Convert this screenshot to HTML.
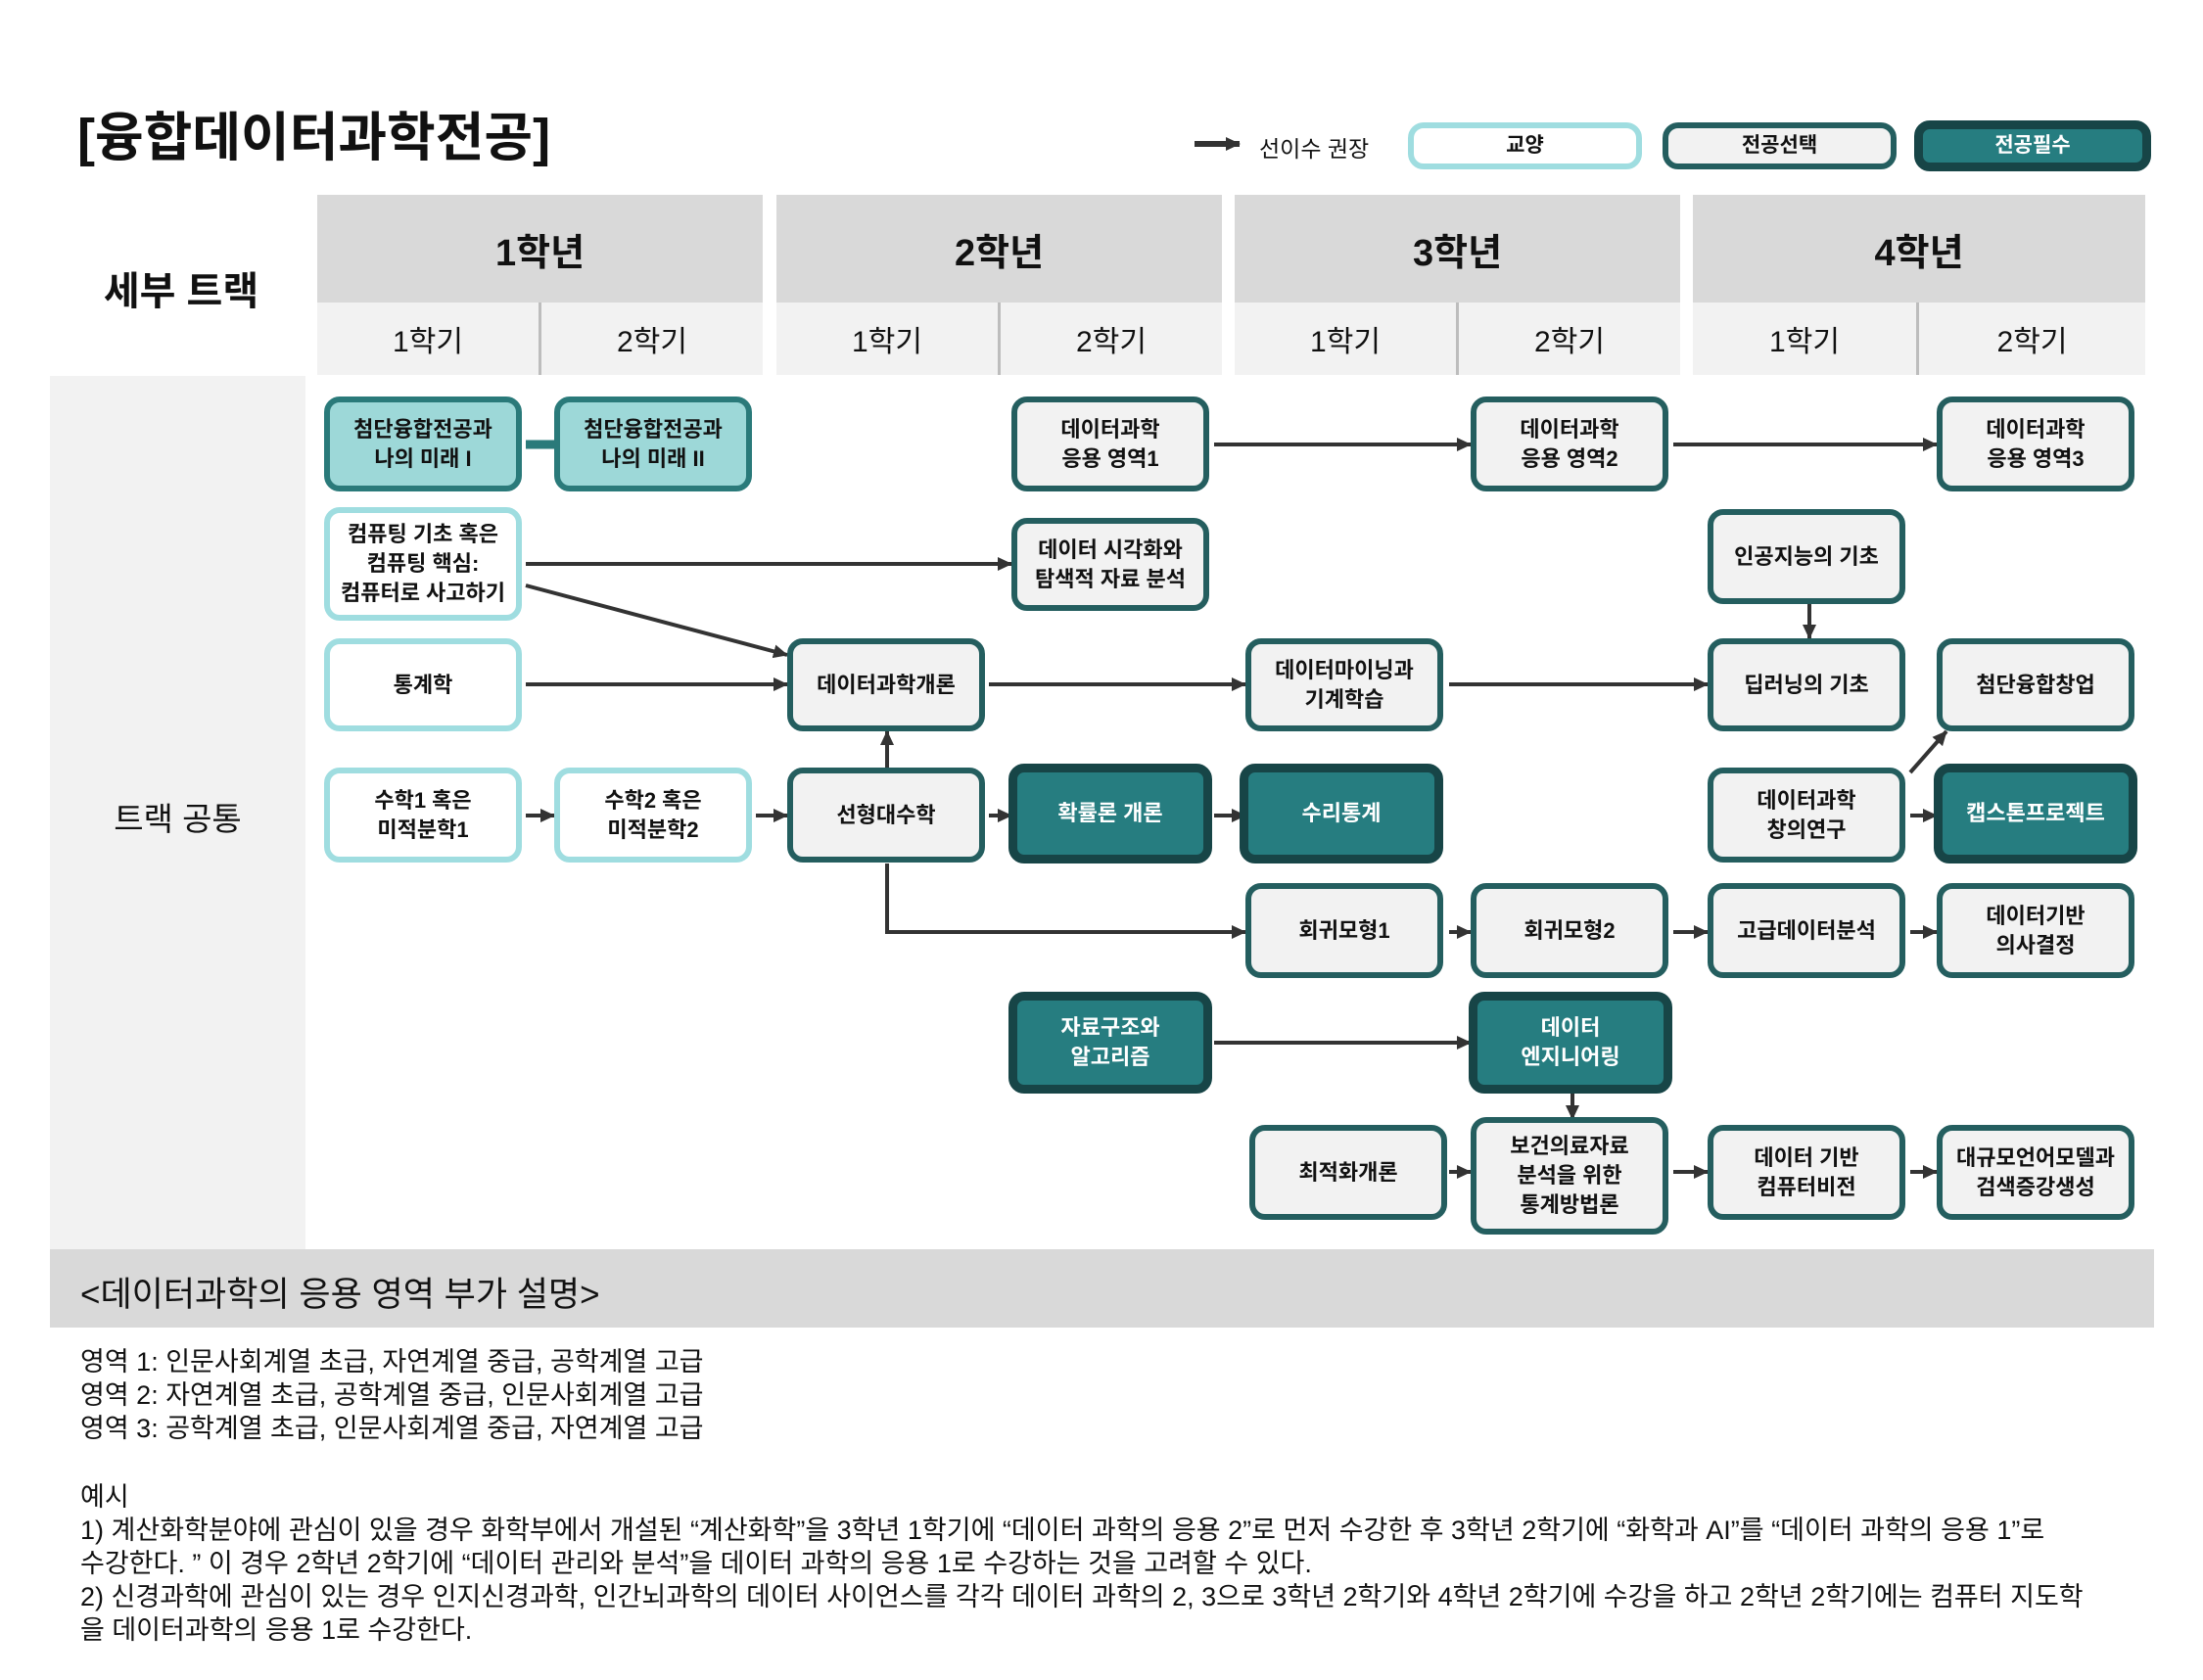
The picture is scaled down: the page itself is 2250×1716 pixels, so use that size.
<!DOCTYPE html>
<html><head><meta charset="utf-8">
<style>
*{margin:0;padding:0;box-sizing:border-box}
body{width:2250px;height:1716px;background:#fff;position:relative;overflow:hidden;font-family:"Liberation Sans","Noto Sans CJK KR",sans-serif;color:#111}
.a{position:absolute}
.yr{position:absolute;top:199px;height:110px;background:#d9d9d9;font-weight:bold;font-size:38px;display:flex;align-items:center;justify-content:center}
.sm{position:absolute;top:309px;height:74px;background:#f2f2f2;font-size:30px;display:flex;align-items:center;justify-content:center}
.n{position:absolute;width:202px;border-radius:16px;display:flex;align-items:center;justify-content:center;text-align:center;font-weight:bold;font-size:22px;line-height:30px;z-index:2}
.g{background:#fff;border:6px solid #9fdde0}
.s{background:#f2f2f2;border:6px solid #245e5f}
.p{background:#267d80;border:9px solid #174547;color:#fff}
.f{background:#9dd8d8;border:6px solid #2a7a7a}
.t{position:absolute;left:82px;font-size:27px;line-height:34px;white-space:nowrap}
#w{position:absolute;left:-4px;top:-3px;width:2250px;height:1716px}
</style></head><body>
<div class="a" style="left:79px;top:106px;font-size:54px;font-weight:bold;line-height:70px">[융합데이터과학전공]</div>

<div class="a" style="left:1286px;top:133px;font-size:23px">선이수 권장</div>
<div class="n g" style="left:1438px;top:125px;width:239px;height:48px;font-size:21px">교양</div>
<div class="n s" style="left:1698px;top:125px;width:239px;height:48px;font-size:21px">전공선택</div>
<div class="n p" style="left:1955px;top:123px;width:242px;height:52px;font-size:21px">전공필수</div>

<div class="a" style="left:60px;top:265px;width:250px;text-align:center;font-size:40px;font-weight:bold">세부 트랙</div>

<div class="yr" style="left:324px;width:455px">1학년</div>
<div class="yr" style="left:793px;width:455px">2학년</div>
<div class="yr" style="left:1261px;width:455px">3학년</div>
<div class="yr" style="left:1729px;width:462px">4학년</div>
<div class="sm" style="left:324px;width:226px">1학기</div><div class="sm" style="left:553px;width:226px">2학기</div>
<div class="sm" style="left:793px;width:226px">1학기</div><div class="sm" style="left:1022px;width:226px">2학기</div>
<div class="sm" style="left:1261px;width:226px">1학기</div><div class="sm" style="left:1490px;width:226px">2학기</div>
<div class="sm" style="left:1729px;width:228px">1학기</div><div class="sm" style="left:1960px;width:231px">2학기</div>
<div class="a" style="left:550px;top:309px;width:3px;height:74px;background:#bdbdbd"></div>
<div class="a" style="left:1019px;top:309px;width:3px;height:74px;background:#bdbdbd"></div>
<div class="a" style="left:1487px;top:309px;width:3px;height:74px;background:#bdbdbd"></div>
<div class="a" style="left:1957px;top:309px;width:3px;height:74px;background:#bdbdbd"></div>

<div class="a" style="left:51px;top:384px;width:261px;height:893px;background:#f2f2f2"></div>
<div class="a" style="left:51px;top:810px;width:261px;text-align:center;font-size:33px">트랙 공통</div>

<svg class="a" style="left:0;top:0;z-index:1" width="2250" height="300">
<defs><marker id="m0" markerUnits="userSpaceOnUse" markerWidth="16" markerHeight="16" refX="14" refY="8" orient="auto"><path d="M0,1 L15,8 L0,15 z" fill="#333"/></marker></defs>
<line x1="1220" y1="147" x2="1266" y2="147" stroke="#333" stroke-width="6" marker-end="url(#m0)"/>
</svg>

<div id="w">
<svg class="a" style="left:0;top:0;z-index:1" width="2250" height="1716">
<defs><marker id="m" markerUnits="userSpaceOnUse" markerWidth="16" markerHeight="16" refX="14" refY="8" orient="auto"><path d="M0,1 L15,8 L0,15 z" fill="#333"/></marker></defs>
<g stroke="#333" stroke-width="4" fill="none" marker-end="url(#m)">
<line x1="1244" y1="457" x2="1506" y2="457"/>
<line x1="1713" y1="457" x2="1982" y2="457"/>
<line x1="541" y1="579" x2="1037" y2="579"/>
<line x1="541" y1="601" x2="808" y2="672"/>
<line x1="541" y1="702" x2="808" y2="702"/>
<line x1="1014" y1="702" x2="1276" y2="702"/>
<line x1="1484" y1="702" x2="1748" y2="702"/>
<line x1="1852" y1="620" x2="1852" y2="655"/>
<line x1="541" y1="836" x2="570" y2="836"/>
<line x1="776" y1="836" x2="808" y2="836"/>
<line x1="1014" y1="836" x2="1037" y2="836"/>
<line x1="1244" y1="836" x2="1276" y2="836"/>
<line x1="910" y1="789" x2="910" y2="750"/>
<polyline points="910,885 910,955 1276,955"/>
<line x1="1484" y1="955" x2="1506" y2="955"/>
<line x1="1713" y1="955" x2="1748" y2="955"/>
<line x1="1955" y1="955" x2="1982" y2="955"/>
<line x1="1955" y1="836" x2="1982" y2="836"/>
<line x1="1955" y1="792" x2="1992" y2="750"/>
<line x1="1244" y1="1068" x2="1506" y2="1068"/>
<line x1="1610" y1="1119" x2="1610" y2="1146"/>
<line x1="1484" y1="1200" x2="1506" y2="1200"/>
<line x1="1713" y1="1200" x2="1748" y2="1200"/>
<line x1="1955" y1="1200" x2="1982" y2="1200"/>
</g>
<line x1="541" y1="457" x2="570" y2="457" stroke="#2a7a7a" stroke-width="9"/>
</svg>

<div class="n f" style="left:335px;top:408px;height:97px">첨단융합전공과<br>나의 미래 I</div>
<div class="n f" style="left:570px;top:408px;height:97px">첨단융합전공과<br>나의 미래 II</div>
<div class="n s" style="left:1037px;top:408px;height:97px">데이터과학<br>응용 영역1</div>
<div class="n s" style="left:1506px;top:408px;height:97px">데이터과학<br>응용 영역2</div>
<div class="n s" style="left:1982px;top:408px;height:97px">데이터과학<br>응용 영역3</div>

<div class="n g" style="left:335px;top:521px;height:116px">컴퓨팅 기초 혹은<br>컴퓨팅 핵심:<br>컴퓨터로 사고하기</div>
<div class="n s" style="left:1037px;top:532px;height:95px">데이터 시각화와<br>탐색적 자료 분석</div>
<div class="n s" style="left:1748px;top:523px;height:97px">인공지능의 기초</div>

<div class="n g" style="left:335px;top:655px;height:95px">통계학</div>
<div class="n s" style="left:808px;top:655px;height:95px">데이터과학개론</div>
<div class="n s" style="left:1276px;top:655px;height:95px">데이터마이닝과<br>기계학습</div>
<div class="n s" style="left:1748px;top:655px;height:95px">딥러닝의 기초</div>
<div class="n s" style="left:1982px;top:655px;height:95px">첨단융합창업</div>

<div class="n g" style="left:335px;top:787px;height:97px">수학1 혹은<br>미적분학1</div>
<div class="n g" style="left:570px;top:787px;height:97px">수학2 혹은<br>미적분학2</div>
<div class="n s" style="left:808px;top:787px;height:97px">선형대수학</div>
<div class="n p" style="left:1034px;top:783px;height:102px;width:208px">확률론 개론</div>
<div class="n p" style="left:1270px;top:783px;height:102px;width:208px">수리통계</div>
<div class="n s" style="left:1748px;top:787px;height:97px">데이터과학<br>창의연구</div>
<div class="n p" style="left:1979px;top:783px;height:102px;width:208px">캡스톤프로젝트</div>

<div class="n s" style="left:1276px;top:905px;height:97px">회귀모형1</div>
<div class="n s" style="left:1506px;top:905px;height:97px">회귀모형2</div>
<div class="n s" style="left:1748px;top:905px;height:97px">고급데이터분석</div>
<div class="n s" style="left:1982px;top:905px;height:97px">데이터기반<br>의사결정</div>

<div class="n p" style="left:1034px;top:1016px;height:104px;width:208px">자료구조와<br>알고리즘</div>
<div class="n p" style="left:1504px;top:1016px;height:104px;width:208px">데이터<br>엔지니어링</div>

<div class="n s" style="left:1280px;top:1152px;height:97px">최적화개론</div>
<div class="n s" style="left:1506px;top:1144px;height:120px">보건의료자료<br>분석을 위한<br>통계방법론</div>
<div class="n s" style="left:1748px;top:1152px;height:97px">데이터 기반<br>컴퓨터비전</div>
<div class="n s" style="left:1982px;top:1152px;height:97px">대규모언어모델과<br>검색증강생성</div>
</div>

<div class="a" style="left:51px;top:1276px;width:2149px;height:80px;background:#d9d9d9"></div>
<div class="a" style="left:82px;top:1294px;font-size:35px">&lt;데이터과학의 응용 영역 부가 설명&gt;</div>
<div class="t" style="top:1374px">영역 1: 인문사회계열 초급, 자연계열 중급, 공학계열 고급</div>
<div class="t" style="top:1408px">영역 2: 자연계열 초급, 공학계열 중급, 인문사회계열 고급</div>
<div class="t" style="top:1442px">영역 3: 공학계열 초급, 인문사회계열 중급, 자연계열 고급</div>
<div class="t" style="top:1512px">예시</div>
<div class="t" style="top:1546px">1) 계산화학분야에 관심이 있을 경우 화학부에서 개설된 “계산화학”을 3학년 1학기에 “데이터 과학의 응용 2”로 먼저 수강한 후 3학년 2학기에 “화학과 AI”를 “데이터 과학의 응용 1”로</div>
<div class="t" style="top:1580px">수강한다. ” 이 경우 2학년 2학기에 “데이터 관리와 분석”을 데이터 과학의 응용 1로 수강하는 것을 고려할 수 있다.</div>
<div class="t" style="top:1614px">2) 신경과학에 관심이 있는 경우 인지신경과학, 인간뇌과학의 데이터 사이언스를 각각 데이터 과학의 2, 3으로 3학년 2학기와 4학년 2학기에 수강을 하고 2학년 2학기에는 컴퓨터 지도학</div>
<div class="t" style="top:1648px">을 데이터과학의 응용 1로 수강한다.</div>
</body></html>
